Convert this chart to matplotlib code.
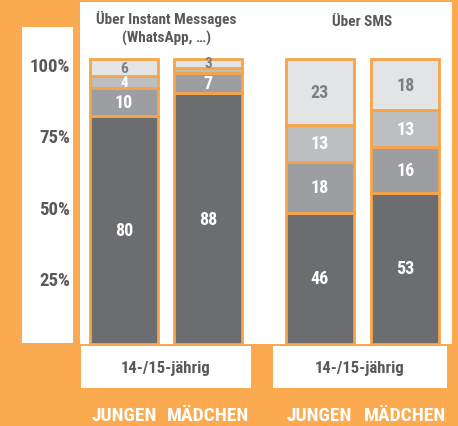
import matplotlib
matplotlib.use('Agg')
import matplotlib.pyplot as plt
import matplotlib.patches as mpatches
from matplotlib.transforms import blended_transform_factory
from matplotlib import font_manager

# --- DATA ---
groups = ['JUNGEN', 'MÄDCHEN', 'JUNGEN', 'MÄDCHEN']
panel_titles = ['Über Instant Messages\n(WhatsApp, …)', 'Über SMS']
age_label = '14-/15-jährig'
seg_dark = [80, 88, 46, 53]
seg_mid = [10, 7, 18, 16]
seg_light = [4, 2, 13, 13]
seg_top = [6, 3, 23, 18]
show_label_light = [True, False, True, True]
ticks = [25, 50, 75, 100]

# --- STYLE ---
orange = '#fbaa4f'
edge = '#f7a448'
c_dark, c_mid, c_light, c_top = '#6c6d71', '#9d9ea2', '#bdbec1', '#e3e4e6'
txt_dark = '#58595b'
txt_gray = '#7d7e81'

names = {f.name for f in font_manager.fontManager.ttflist}
fam = 'DejaVu Sans'
for cand in ['Roboto Condensed', 'Liberation Sans Narrow', 'Open Sans Condensed', 'Roboto']:
    if cand in names:
        fam = cand
        break
plt.rcParams['font.family'] = [fam, 'DejaVu Sans']

W, H = 458, 427
fig = plt.figure(figsize=(W / 100, H / 100), dpi=100, facecolor=orange)

# bar axes (white panel)
ax = fig.add_axes([80 / W, (H - 345) / H, 372 / W, 342 / H])
ax.set_facecolor('white')
x = [0, 1, 2.33, 3.35]
ax.set_xlim(-0.524, 3.905)
ax.set_ylim(0, 120)
for s in ax.spines.values():
    s.set_visible(False)
ax.set_xticks([])
ax.set_yticks([])

w = 0.81
bottoms = [0, 0, 0, 0]
layers = [
    (seg_dark, c_dark, 'white', [True] * 4),
    (seg_mid, c_mid, 'white', [True] * 4),
    (seg_light, c_light, 'white', show_label_light),
    (seg_top, c_top, txt_gray, [True] * 4),
]
for vals, col, tcol, show in layers:
    ax.bar(x, vals, width=w, bottom=bottoms, color=col,
           edgecolor=edge, linewidth=2)
    for i, v in enumerate(vals):
        if show[i]:
            fs = 13 if v >= 7 else 11
            ax.text(x[i], bottoms[i] + v / 2, str(v), ha='center', va='center',
                    color=tcol, fontsize=fs, fontweight='bold')
    bottoms = [b + v for b, v in zip(bottoms, vals)]

# panel titles
ax.text((x[0] + x[1]) / 2, 111, panel_titles[0], ha='center', va='center',
        color=txt_dark, fontsize=11, fontweight='bold', linespacing=1.3)
ax.text((x[2] + x[3]) / 2, 113.5, panel_titles[1], ha='center', va='center',
        color=txt_dark, fontsize=11, fontweight='bold')

# tick panel on the left
fig.patches.append(mpatches.Rectangle((22 / W, (H - 344) / H), 51 / W, 316 / H,
                                      transform=fig.transFigure, zorder=-1,
                                      facecolor='white', edgecolor='none'))
tr = blended_transform_factory(fig.transFigure, ax.transData)
for t in ticks:
    fig.text(70 / W, t - 2.5, f'{t}%', transform=tr, ha='right', va='center',
             color=txt_dark, fontsize=13.5, fontweight='bold', zorder=5)

# age boxes below
trx = blended_transform_factory(ax.transData, fig.transFigure)
for (x0, x1) in [(-0.51, 1.51), (1.77, 3.85)]:
    fig.patches.append(mpatches.Rectangle((x0, (H - 389) / H), x1 - x0, 42 / H,
                                          transform=trx, facecolor='white',
                                          edgecolor='none', zorder=-1))
    fig.text((x0 + x1) / 2, (H - 369) / H, age_label, transform=trx,
             ha='center', va='center', color=txt_dark, fontsize=12,
             fontweight='bold', zorder=5)

# group labels
for xi, g in zip(x, groups):
    fig.text(xi, (H - 416) / H, g, transform=trx, ha='center', va='center',
             color='white', fontsize=14, fontweight='bold', zorder=5)

fig.savefig('out.png', dpi=100, facecolor=orange)
